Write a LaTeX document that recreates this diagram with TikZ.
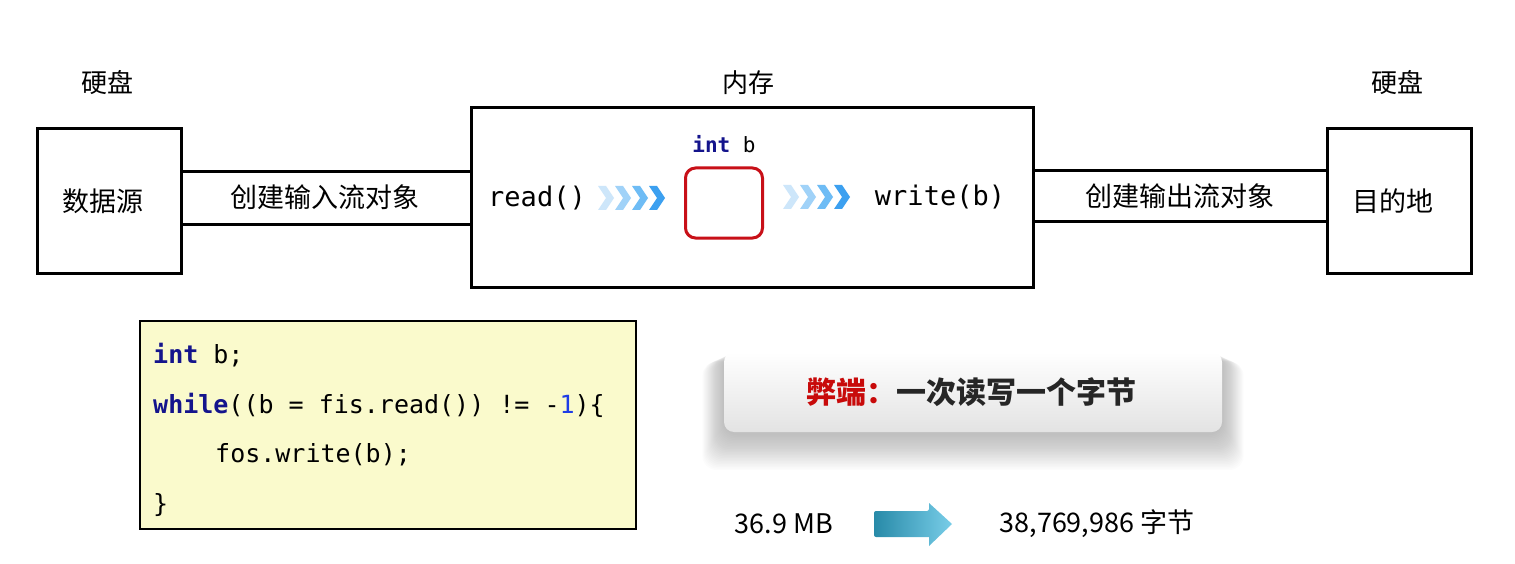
\documentclass[tikz,border=0pt]{standalone}
\usepackage{fontspec}
\setmainfont{Noto Sans CJK SC}
\newfontfamily\cjk{Noto Sans CJK SC}
\newfontfamily\codefont{DejaVu Sans Mono}
\usetikzlibrary{calc}
\definecolor{kw}{RGB}{20,20,140}
\definecolor{num}{RGB}{30,60,230}
\definecolor{codebg}{RGB}{250,250,204}
\definecolor{boxred}{RGB}{200,16,24}
\definecolor{warnred}{RGB}{200,10,10}
\definecolor{cA}{RGB}{205,230,250}
\definecolor{cB}{RGB}{160,210,248}
\definecolor{cC}{RGB}{110,188,245}
\definecolor{cD}{RGB}{60,160,240}
\definecolor{arrL}{RGB}{40,138,168}
\definecolor{arrR}{RGB}{120,205,232}
\tikzset{
  thickbox/.style={draw=black, line width=3pt, fill=white, inner sep=0pt},
  cjklabel/.style={font=\cjk\fontsize{26}{30}\selectfont, inner sep=0pt},
  codetxt/.style={font=\codefont\fontsize{25}{30}\selectfont, inner sep=0pt, anchor=west},
  chan/.style={line width=3pt},
}
\newcommand{\chev}[3]{\fill[#3] (#1,#2-12) -- (#1+8,#2-12) -- (#1+16,#2) -- (#1+8,#2+12) -- (#1,#2+12) -- (#1+8,#2) -- cycle;}
\begin{document}
\begin{tikzpicture}[x=1pt,y=-1pt]
\useasboundingbox (0,0) rectangle (1515,564);
% boxes
\node[thickbox, minimum width=144, minimum height=144] (src) at (109,201) {};
\node[thickbox, minimum width=562, minimum height=179] (mem) at (752,197.5) {};
\node[thickbox, minimum width=144, minimum height=144] (dst) at (1399,201) {};
% labels above
\node[cjklabel] (h1) at (107,83) {硬盘};
\node[cjklabel] (h2) at (748,83) {内存};
\node[cjklabel] (h3) at (1397,83) {硬盘};
\node[cjklabel, font=\cjk\fontsize{27}{30}\selectfont] (ds) at (103,201) {数据源};
\node[cjklabel, font=\cjk\fontsize{27}{30}\selectfont] (dd) at (1393,201) {目的地};
% channels
\draw[chan] (src.east |- 0,172) -- (mem.west |- 0,172);
\draw[chan] (src.east |- 0,225) -- (mem.west |- 0,225);
\draw[chan] (mem.east |- 0,171) -- (dst.west |- 0,171);
\draw[chan] (mem.east |- 0,222) -- (dst.west |- 0,222);
\node[cjklabel, font=\cjk\fontsize{27}{30}\selectfont] (cin) at (325,197) {创建输入流对象};
\node[cjklabel, font=\cjk\fontsize{27}{30}\selectfont] (cout) at (1180,196) {创建输出流对象};
% memory content
\node[font=\codefont\fontsize{27}{30}\selectfont, inner sep=0pt] (rd) at (537,198) {read()};
\node[font=\codefont\fontsize{27}{30}\selectfont, inner sep=0pt] (wr) at (940,197) {write(b)};
\node[draw=boxred, line width=3pt, rounded corners=10pt, minimum width=77, minimum height=70, inner sep=0pt] (bx) at (724,203) {};
\node[font=\codefont\fontsize{21}{24}\selectfont, inner sep=0pt] (ib) at (724,144) {\textbf{\color{kw}int} b};
\chev{598}{198}{cA}
\chev{615}{198}{cB}
\chev{632}{198}{cC}
\chev{649}{198}{cD}
\chev{783}{197}{cA}
\chev{800}{197}{cB}
\chev{817}{197}{cC}
\chev{834}{197}{cD}
% code box
\node[draw=black, line width=2pt, fill=codebg, minimum width=496, minimum height=208, inner sep=0pt] (code) at (388,425) {};
\node[codetxt] (l1) at (153,355) {\textbf{\color{kw}int} b;};
\node[codetxt] (l2) at (153,405) {\textbf{\color{kw}while}((b = fis.read()) != -{\color{num}1})\{};
\node[codetxt] (l3) at (215,455) {fos.write(b);};
\node[codetxt] (l4) at (153,505) {\}};
% warning box with soft shadow
\foreach \i in {1,...,24}{
  \fill[black, opacity=0.012, rounded corners=14pt] (724-\i*0.9,352+\i*0.4) rectangle (1222+\i*0.9,434+\i*1.5);
}
\node[rounded corners=10pt, top color=white, bottom color=black!11, minimum width=498, minimum height=80, inner sep=0pt] (warn) at (973,392) {};
\node[font=\cjk\bfseries\fontsize{30}{34}\selectfont, inner sep=0pt] (wt) at (971,392) {{\color{warnred}弊端：}{\color{black!85}一次读写一个字节}};
% bottom
\node[font=\cjk\fontsize{27}{30}\selectfont, inner sep=0pt] (mb) at (784,524) {36.9 MB};
\node[font=\cjk\fontsize{27}{30}\selectfont, inner sep=0pt] (by) at (1097,524) {38,769,986 字节};
\shade[left color=arrL, right color=arrR, rounded corners=2pt] (874,511) -- (929,511) [sharp corners] -- (929,503) -- (952,524) -- (929,546) -- (929,537) [rounded corners=2pt] -- (874,537) -- cycle;
\end{tikzpicture}
\end{document}
